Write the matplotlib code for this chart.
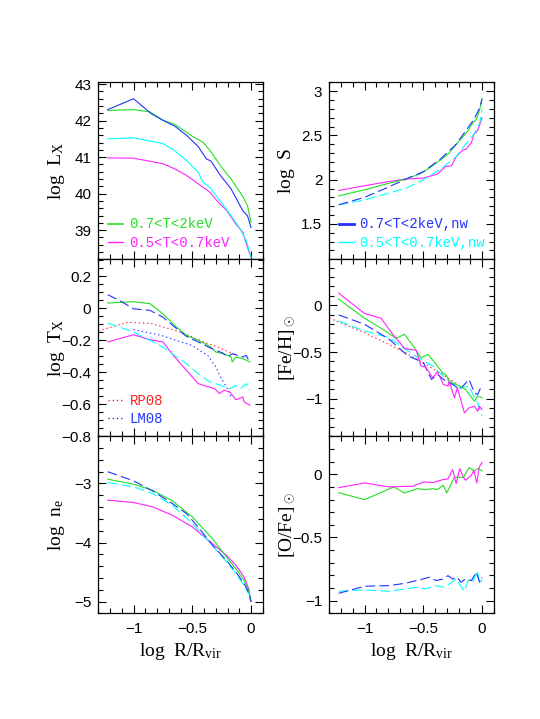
import matplotlib
matplotlib.use("Agg")
import matplotlib.pyplot as plt
from matplotlib.ticker import MultipleLocator, FuncFormatter
from matplotlib.lines import Line2D

plt.rcParams['font.family'] = ['Liberation Sans', 'DejaVu Sans']
plt.rcParams['mathtext.fontset'] = 'custom'
plt.rcParams['mathtext.rm'] = 'Liberation Serif'
plt.rcParams['mathtext.it'] = 'Liberation Serif:italic'
plt.rcParams['lines.scale_dashes'] = False

GREEN = '#22e022'
BLUE = '#2233ff'
CYAN = '#00ffff'
MAGENTA = '#ff22ff'
RED = '#ff2222'

# ---- log L_X ----
lx_blue_x = [-1.22, -1.0, -0.85, -0.75, -0.65, -0.55, -0.45, -0.38, -0.34, -0.27, -0.17, -0.07, -0.03, 0.0]
lx_blue_y = [42.30, 42.60, 42.19, 42.01, 41.85, 41.60, 41.29, 40.95, 40.89, 40.54, 40.13, 39.53, 39.39, 39.07]
lx_green_x = [-1.22, -1.0, -0.86, -0.75, -0.65, -0.58, -0.49, -0.41, -0.34, -0.25, -0.17, -0.07, -0.03, 0.0]
lx_green_y = [42.28, 42.30, 42.24, 42.01, 41.90, 41.75, 41.55, 41.41, 41.14, 40.72, 40.40, 39.92, 39.67, 39.21]
lx_cyan_x = [-1.22, -1.0, -0.75, -0.65, -0.55, -0.45, -0.41, -0.35, -0.27, -0.17, -0.10, -0.04, 0.0]
lx_cyan_y = [41.50, 41.53, 41.37, 41.18, 40.91, 40.59, 40.31, 40.17, 39.83, 39.39, 39.07, 38.71, 38.25]
lx_mag_x = [-1.22, -1.0, -0.75, -0.65, -0.55, -0.45, -0.35, -0.27, -0.21, -0.13, -0.07, -0.03, 0.0]
lx_mag_y = [40.98, 40.97, 40.82, 40.68, 40.50, 40.27, 40.04, 39.73, 39.55, 39.17, 38.94, 38.52, 38.25]

# ---- log S ----
s_mag_x = [-1.22, -1.0, -0.79, -0.65, -0.50, -0.38, -0.31, -0.26, -0.22, -0.16, -0.14, -0.09, -0.07, -0.04, -0.02, 0.0]
s_mag_y = [1.878, 1.931, 1.98, 2.006, 2.018, 2.063, 2.15, 2.157, 2.26, 2.34, 2.34, 2.42, 2.51, 2.55, 2.62, 2.70]
s_green_x = [-1.22, -1.0, -0.79, -0.65, -0.52, -0.45, -0.35, -0.28, -0.22, -0.16, -0.12, -0.09, -0.05, -0.02, 0.0]
s_green_y = [1.817, 1.885, 1.96, 2.006, 2.07, 2.13, 2.226, 2.30, 2.40, 2.49, 2.55, 2.62, 2.68, 2.79, 2.92]
s_blue_x = [-1.22, -1.0, -0.79, -0.65, -0.50, -0.36, -0.22, -0.14, -0.07, -0.02, 0.0]
s_blue_y = [1.716, 1.80, 1.92, 2.006, 2.09, 2.226, 2.40, 2.55, 2.68, 2.81, 2.91]
s_cyan_x = [-1.22, -1.0, -0.79, -0.65, -0.50, -0.36, -0.22, -0.14, -0.07, -0.02, 0.0]
s_cyan_y = [1.716, 1.77, 1.85, 1.90, 2.0, 2.11, 2.26, 2.40, 2.51, 2.64, 2.79]

# ---- log T_X ----
t_green_x = [-1.22, -1.0, -0.86, -0.75, -0.65, -0.55, -0.45, -0.35, -0.30, -0.21, -0.17, -0.16, -0.13, -0.07, -0.01]
t_green_y = [0.032, 0.040, 0.028, -0.035, -0.108, -0.17, -0.201, -0.238, -0.274, -0.29, -0.305, -0.336, -0.305, -0.315, -0.336]
t_blue_x = [-1.22, -1.12, -1.0, -0.86, -0.75, -0.65, -0.55, -0.45, -0.35, -0.30, -0.24, -0.20, -0.16, -0.11, -0.07, -0.04, -0.01]
t_blue_y = [0.084, 0.048, -0.004, -0.014, -0.056, -0.118, -0.176, -0.211, -0.247, -0.263, -0.28, -0.305, -0.284, -0.295, -0.305, -0.295, -0.342]
t_cyan_x = [-1.22, -1.12, -1.0, -0.86, -0.75, -0.65, -0.55, -0.45, -0.35, -0.30, -0.24, -0.18, -0.13, -0.09, -0.04, -0.01]
t_cyan_y = [-0.093, -0.118, -0.149, -0.201, -0.243, -0.295, -0.346, -0.409, -0.461, -0.471, -0.488, -0.502, -0.482, -0.502, -0.471, -0.513]
t_mag_x = [-1.22, -1.0, -0.86, -0.75, -0.65, -0.55, -0.45, -0.38, -0.31, -0.27, -0.23, -0.18, -0.13, -0.10, -0.07, -0.06, -0.01]
t_mag_y = [-0.211, -0.166, -0.197, -0.211, -0.305, -0.388, -0.471, -0.488, -0.502, -0.533, -0.513, -0.523, -0.571, -0.565, -0.554, -0.585, -0.606]
t_rp08_x = [-1.30, -1.05, -0.85, -0.60, -0.40, -0.27, -0.14]
t_rp08_y = [-0.142, -0.088, -0.096, -0.149, -0.211, -0.247, -0.29]
t_lm08_x = [-1.0, -0.77, -0.51, -0.37, -0.30, -0.26, -0.21, -0.17]
t_lm08_y = [-0.134, -0.169, -0.231, -0.294, -0.366, -0.429, -0.491, -0.55]

# ---- [Fe/H] ----
fe_mag_x = [-1.22, -1.0, -0.86, -0.76, -0.66, -0.62, -0.56, -0.52, -0.48, -0.42, -0.38, -0.33, -0.29, -0.28, -0.235, -0.21, -0.15, -0.11, -0.065, -0.037, -0.023, 0.0]
fe_mag_y = [0.129, -0.089, -0.139, -0.311, -0.461, -0.471, -0.482, -0.65, -0.661, -0.775, -0.711, -0.846, -0.864, -0.81, -0.989, -0.882, -1.15, -1.096, -1.079, -1.132, -1.079, -1.114]
fe_green_x = [-1.22, -1.0, -0.86, -0.73, -0.66, -0.575, -0.52, -0.46, -0.39, -0.33, -0.31, -0.28, -0.235, -0.19, -0.14, -0.065, -0.037, 0.0]
fe_green_y = [0.064, -0.139, -0.246, -0.354, -0.311, -0.454, -0.561, -0.525, -0.632, -0.732, -0.739, -0.81, -0.839, -0.864, -0.9, -1.025, -0.971, -0.989]
fe_blue_x = [-1.22, -1.0, -0.79, -0.63, -0.56, -0.50, -0.43, -0.38, -0.31, -0.25, -0.19, -0.11, -0.065, -0.037, 0.0]
fe_blue_y = [-0.104, -0.204, -0.364, -0.543, -0.579, -0.614, -0.793, -0.739, -0.81, -0.846, -0.9, -0.793, -0.936, -0.954, -0.846]
fe_cyan_x = [-1.22, -1.0, -0.79, -0.65, -0.50, -0.42, -0.33, -0.25, -0.19, -0.11, -0.065, -0.037, 0.0]
fe_cyan_y = [-0.168, -0.275, -0.346, -0.471, -0.596, -0.65, -0.757, -0.839, -0.882, -0.864, -0.989, -1.043, -1.186]
fe_rp08_x = [-1.30, -1.0, -0.65, -0.36, -0.20]
fe_rp08_y = [-0.139, -0.293, -0.507, -0.721, -0.85]

# ---- log n_e ----
ne_blue_x = [-1.22, -1.0, -0.84, -0.67, -0.55, -0.44, -0.33, -0.21, -0.13, -0.06, -0.03, 0.0]
ne_blue_y = [-2.80, -2.955, -3.124, -3.339, -3.508, -3.763, -4.045, -4.30, -4.497, -4.695, -4.808, -5.006]
ne_x = [-1.22, -1.0, -0.84, -0.67, -0.50, -0.33, -0.21, -0.13, -0.06, -0.02, 0.0]
ne_green_y = [-2.927, -3.011, -3.113, -3.294, -3.565, -3.932, -4.243, -4.44, -4.638, -4.808, -5.0]
ne_cyan_y = [-2.983, -3.056, -3.169, -3.367, -3.678, -4.045, -4.328, -4.525, -4.723, -4.864, -5.0]
ne_mag_y = [-3.282, -3.322, -3.395, -3.537, -3.734, -4.017, -4.215, -4.384, -4.582, -4.78, -5.0]

# ---- [O/Fe] ----
o_mag_x = [-1.22, -1.0, -0.79, -0.59, -0.50, -0.42, -0.33, -0.29, -0.25, -0.22, -0.19, -0.16, -0.14, -0.09, -0.07, -0.045, -0.023, 0.0]
o_mag_y = [-0.106, -0.069, -0.10, -0.095, -0.061, -0.066, -0.042, -0.037, 0.037, -0.074, 0.045, -0.021, -0.048, -0.008, 0.032, -0.069, 0.058, 0.093]
o_green_x = [-1.22, -1.0, -0.75, -0.66, -0.55, -0.48, -0.42, -0.38, -0.33, -0.30, -0.235, -0.16, -0.11, -0.065, -0.037, 0.0]
o_green_y = [-0.146, -0.201, -0.10, -0.148, -0.114, -0.122, -0.114, -0.122, -0.087, -0.148, -0.021, -0.026, 0.053, 0.026, 0.045, 0.026]
o_blue_x = [-1.22, -1.0, -0.79, -0.65, -0.50, -0.45, -0.39, -0.33, -0.29, -0.25, -0.21, -0.18, -0.14, -0.09, -0.05, -0.02, 0.0]
o_blue_y = [-0.942, -0.886, -0.881, -0.862, -0.828, -0.815, -0.841, -0.828, -0.802, -0.828, -0.815, -0.854, -0.828, -0.841, -0.775, -0.854, -0.815]
o_cyan_x = [-1.22, -1.0, -0.79, -0.65, -0.56, -0.48, -0.39, -0.33, -0.28, -0.22, -0.15, -0.12, -0.08, -0.04, -0.02, 0.0]
o_cyan_y = [-0.926, -0.915, -0.926, -0.907, -0.894, -0.907, -0.881, -0.894, -0.868, -0.828, -0.926, -0.841, -0.854, -0.762, -0.868, -0.828]


def fmt(v, pos):
    v = round(v, 6)
    if v == 0:
        return '0'
    return f'{v:g}'.replace('-', '\u2212')


fig = plt.figure(figsize=(5.4, 7.19), dpi=100)
W, H = 540.0, 719.0
col_left = [98.3, 329.3]
col_w = 164.5
row_top = [82.3, 259.3, 436.3]
row_h = 177.0
lab_x = [-0.19, -0.195]

axes = {}
for r in range(3):
    for c in range(2):
        ax = fig.add_axes([col_left[c] / W, 1 - (row_top[r] + row_h) / H, col_w / W, row_h / H])
        ax.set_xlim(-1.3, 0.1)
        ax.xaxis.set_major_locator(MultipleLocator(0.5))
        ax.xaxis.set_minor_locator(MultipleLocator(0.1))
        ax.tick_params(which='both', direction='in', top=True, right=True, labelsize=11, width=0.8)
        ax.tick_params(which='major', length=6)
        ax.tick_params(which='minor', length=3.5)
        ax.tick_params(axis='x', pad=6)
        ax.tick_params(axis='y', pad=5)
        ax.xaxis.set_major_formatter(FuncFormatter(fmt))
        ax.yaxis.set_major_formatter(FuncFormatter(fmt))
        for s in ax.spines.values():
            s.set_linewidth(0.9)
        if r < 2:
            ax.tick_params(labelbottom=False)
        else:
            ax.set_xlabel(r'$\mathrm{log\ \ R/R_{vir}}$', fontsize=14)
            ax.xaxis.set_label_coords(0.5, -0.155)
        axes[(r, c)] = ax

lw = 0.8
dash = (7, 3)
lab_font = 14
leg_kw = dict(loc='lower left', frameon=False, prop={'family': 'Liberation Mono', 'size': 10},
              handlelength=1.1, labelspacing=0.3, borderaxespad=0.3, labelcolor='linecolor')

# top-left: log L_X
ax = axes[(0, 0)]
ax.plot(lx_mag_x, lx_mag_y, color=MAGENTA, lw=lw)
ax.plot(lx_cyan_x, lx_cyan_y, color=CYAN, lw=lw)
ax.plot(lx_green_x, lx_green_y, color=GREEN, lw=lw)
ax.plot(lx_blue_x, lx_blue_y, color=BLUE, lw=lw)
ax.set_ylim(38.2, 43.05)
ax.yaxis.set_major_locator(MultipleLocator(1))
ax.yaxis.set_minor_locator(MultipleLocator(0.2))
ax.set_ylabel(r'$\mathrm{log\ \ L_X}$', fontsize=lab_font)
ax.yaxis.set_label_coords(lab_x[0], 0.5)
ax.legend(handles=[Line2D([], [], color=GREEN, lw=1.2), Line2D([], [], color=MAGENTA, lw=1.0)],
          labels=['0.7<T<2keV', '0.5<T<0.7keV'], handletextpad=0.45, **leg_kw)

# top-right: log S
ax = axes[(0, 1)]
ax.plot(s_mag_x, s_mag_y, color=MAGENTA, lw=lw)
ax.plot(s_green_x, s_green_y, color=GREEN, lw=lw)
ax.plot(s_cyan_x, s_cyan_y, color=CYAN, lw=lw, dashes=dash)
ax.plot(s_blue_x, s_blue_y, color=BLUE, lw=lw, dashes=dash)
ax.set_ylim(1.1, 3.1)
ax.yaxis.set_major_locator(MultipleLocator(0.5))
ax.yaxis.set_minor_locator(MultipleLocator(0.1))
ax.set_ylabel(r'$\mathrm{log\ \ S}$', fontsize=lab_font)
ax.yaxis.set_label_coords(lab_x[1], 0.5)
ax.legend(handles=[Line2D([], [], color=BLUE, lw=2.0), Line2D([], [], color=CYAN, lw=1.0)],
          labels=['0.7<T<2keV,nw', '0.5<T<0.7keV,nw'], handletextpad=0.35, **leg_kw)

# middle-left: log T_X
ax = axes[(1, 0)]
ax.plot(t_rp08_x, t_rp08_y, color=RED, lw=lw, dashes=(1, 2))
ax.plot(t_lm08_x, t_lm08_y, color=BLUE, lw=lw, dashes=(1, 2))
ax.plot(t_mag_x, t_mag_y, color=MAGENTA, lw=lw)
ax.plot(t_cyan_x, t_cyan_y, color=CYAN, lw=lw, dashes=dash)
ax.plot(t_green_x, t_green_y, color=GREEN, lw=lw)
ax.plot(t_blue_x, t_blue_y, color=BLUE, lw=lw, dashes=dash)
ax.set_ylim(-0.8, 0.305)
ax.yaxis.set_major_locator(MultipleLocator(0.2))
ax.yaxis.set_minor_locator(MultipleLocator(0.05))
ax.set_ylabel(r'$\mathrm{log\ \ T_X}$', fontsize=lab_font)
ax.yaxis.set_label_coords(lab_x[0], 0.5)
ax.legend(handles=[Line2D([], [], color=RED, lw=1.0, dashes=(1, 2)), Line2D([], [], color=BLUE, lw=1.0, dashes=(1, 2))],
          labels=['RP08', 'LM08'], handletextpad=0.45, bbox_to_anchor=(0.0, 0.005), **leg_kw)

# middle-right: [Fe/H]
ax = axes[(1, 1)]
ax.plot(fe_rp08_x, fe_rp08_y, color=RED, lw=lw, dashes=(1, 2))
ax.plot(fe_cyan_x, fe_cyan_y, color=CYAN, lw=lw, dashes=dash)
ax.plot(fe_blue_x, fe_blue_y, color=BLUE, lw=lw, dashes=dash)
ax.plot(fe_green_x, fe_green_y, color=GREEN, lw=lw)
ax.plot(fe_mag_x, fe_mag_y, color=MAGENTA, lw=lw)
ax.set_ylim(-1.4, 0.49)
ax.yaxis.set_major_locator(MultipleLocator(0.5))
ax.yaxis.set_minor_locator(MultipleLocator(0.1))
ax.set_ylabel(r'$\mathrm{[Fe/H]_\odot}$', fontsize=lab_font)
ax.yaxis.set_label_coords(lab_x[1], 0.5)

# bottom-left: log n_e
ax = axes[(2, 0)]
ax.plot(ne_x, ne_mag_y, color=MAGENTA, lw=lw)
ax.plot(ne_x, ne_green_y, color=GREEN, lw=lw)
ax.plot(ne_x, ne_cyan_y, color=CYAN, lw=lw, dashes=dash)
ax.plot(ne_blue_x, ne_blue_y, color=BLUE, lw=lw, dashes=dash)
ax.set_ylim(-5.2, -2.2)
ax.yaxis.set_major_locator(MultipleLocator(1))
ax.yaxis.set_minor_locator(MultipleLocator(0.2))
ax.set_ylabel(r'$\mathrm{log\ \ n_e}$', fontsize=lab_font)
ax.yaxis.set_label_coords(lab_x[0], 0.5)

# bottom-right: [O/Fe]
ax = axes[(2, 1)]
ax.plot(o_green_x, o_green_y, color=GREEN, lw=lw)
ax.plot(o_mag_x, o_mag_y, color=MAGENTA, lw=lw)
ax.plot(o_cyan_x, o_cyan_y, color=CYAN, lw=lw, dashes=dash)
ax.plot(o_blue_x, o_blue_y, color=BLUE, lw=lw, dashes=dash)
ax.set_ylim(-1.1, 0.3)
ax.yaxis.set_major_locator(MultipleLocator(0.5))
ax.yaxis.set_minor_locator(MultipleLocator(0.1))
ax.set_ylabel(r'$\mathrm{[O/Fe]_\odot}$', fontsize=lab_font)
ax.yaxis.set_label_coords(lab_x[1], 0.5)

fig.savefig('out.png', dpi=100)
